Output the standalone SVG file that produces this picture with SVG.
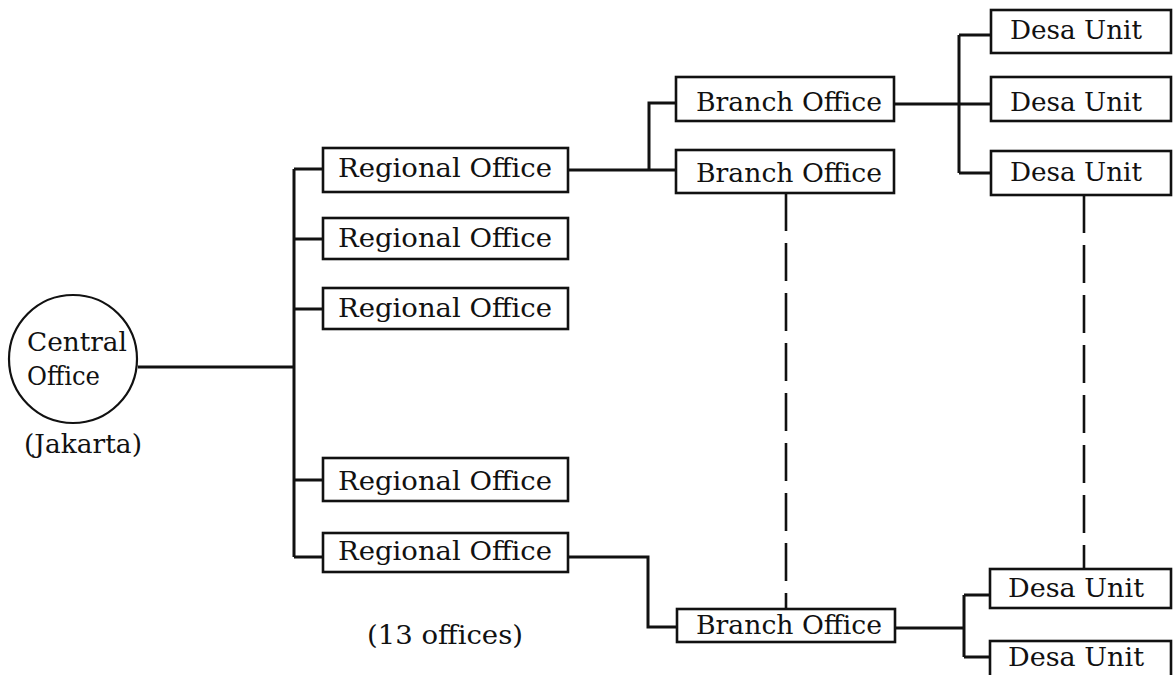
<svg xmlns="http://www.w3.org/2000/svg" width="1173" height="675" viewBox="0 0 1173 675">
<style>
.box{fill:#fff;stroke:#111;stroke-width:2.6}
.t{font-family:"DejaVu Serif","Liberation Serif",serif;font-size:26.5px;fill:#111}
.c{fill:none;stroke:#111;stroke-width:3}
.d{fill:none;stroke:#111;stroke-width:2.6;stroke-dasharray:38 12}
</style>
<rect width="1173" height="675" fill="#fff"/>
<g id="connectors">
<path class="c" d="M138 367H294M294 169V557M294 169H323M294 239H323M294 309H323M294 480H323M294 557H323"/>
<path class="c" d="M568 170H676M649 170V103H676"/>
<path class="c" d="M568 557H648V627H677"/>
<path class="c" d="M894 104H991M959 35V173M959 35H991M959 173H991"/>
<path class="c" d="M895 628H964M964 595V657M964 595H990M964 657H990"/>
<path class="d" d="M786 193V609"/>
<path class="d" d="M1084 195V569"/>
</g>
<g id="central">
<circle cx="73" cy="359" r="64" fill="#fff" stroke="#111" stroke-width="2.2"/>
<text class="t" x="27" y="351" textLength="100" lengthAdjust="spacingAndGlyphs">Central</text>
<text class="t" x="27" y="385" textLength="73" lengthAdjust="spacingAndGlyphs">Office</text>
<text class="t" x="24" y="453" textLength="118" lengthAdjust="spacingAndGlyphs">(Jakarta)</text>
</g>
<g id="regional1"><rect class="box" x="323" y="148" width="245" height="44"/><text class="t" x="338" y="177" textLength="214" lengthAdjust="spacingAndGlyphs">Regional Office</text></g>
<g id="regional2"><rect class="box" x="323" y="218" width="245" height="41"/><text class="t" x="338" y="247" textLength="214" lengthAdjust="spacingAndGlyphs">Regional Office</text></g>
<g id="regional3"><rect class="box" x="323" y="288" width="245" height="41"/><text class="t" x="338" y="317" textLength="214" lengthAdjust="spacingAndGlyphs">Regional Office</text></g>
<g id="regional4"><rect class="box" x="323" y="458" width="245" height="43"/><text class="t" x="338" y="490" textLength="214" lengthAdjust="spacingAndGlyphs">Regional Office</text></g>
<g id="regional5"><rect class="box" x="323" y="533" width="245" height="39"/><text class="t" x="338" y="560" textLength="214" lengthAdjust="spacingAndGlyphs">Regional Office</text></g>
<g id="branch1"><rect class="box" x="676" y="77" width="218" height="44"/><text class="t" x="696" y="111" textLength="186" lengthAdjust="spacingAndGlyphs">Branch Office</text></g>
<g id="branch2"><rect class="box" x="676" y="150" width="218" height="43"/><text class="t" x="696" y="182" textLength="186" lengthAdjust="spacingAndGlyphs">Branch Office</text></g>
<g id="branch3"><rect class="box" x="677" y="609" width="218" height="33"/><text class="t" x="696" y="634" textLength="186" lengthAdjust="spacingAndGlyphs">Branch Office</text></g>
<g id="desa1"><rect class="box" x="991" y="10" width="180" height="43"/><text class="t" x="1010" y="39" textLength="132" lengthAdjust="spacingAndGlyphs">Desa Unit</text></g>
<g id="desa2"><rect class="box" x="991" y="77" width="180" height="44"/><text class="t" x="1010" y="111" textLength="132" lengthAdjust="spacingAndGlyphs">Desa Unit</text></g>
<g id="desa3"><rect class="box" x="991" y="151" width="180" height="44"/><text class="t" x="1010" y="181" textLength="132" lengthAdjust="spacingAndGlyphs">Desa Unit</text></g>
<g id="desa4"><rect class="box" x="990" y="569" width="181" height="39"/><text class="t" x="1008" y="597" textLength="136" lengthAdjust="spacingAndGlyphs">Desa Unit</text></g>
<g id="desa5"><rect class="box" x="990" y="641" width="181" height="40"/><text class="t" x="1008" y="666" textLength="136" lengthAdjust="spacingAndGlyphs">Desa Unit</text></g>
<g id="note"><text class="t" x="367" y="644" textLength="156" lengthAdjust="spacingAndGlyphs">(13 offices)</text></g>
</svg>
